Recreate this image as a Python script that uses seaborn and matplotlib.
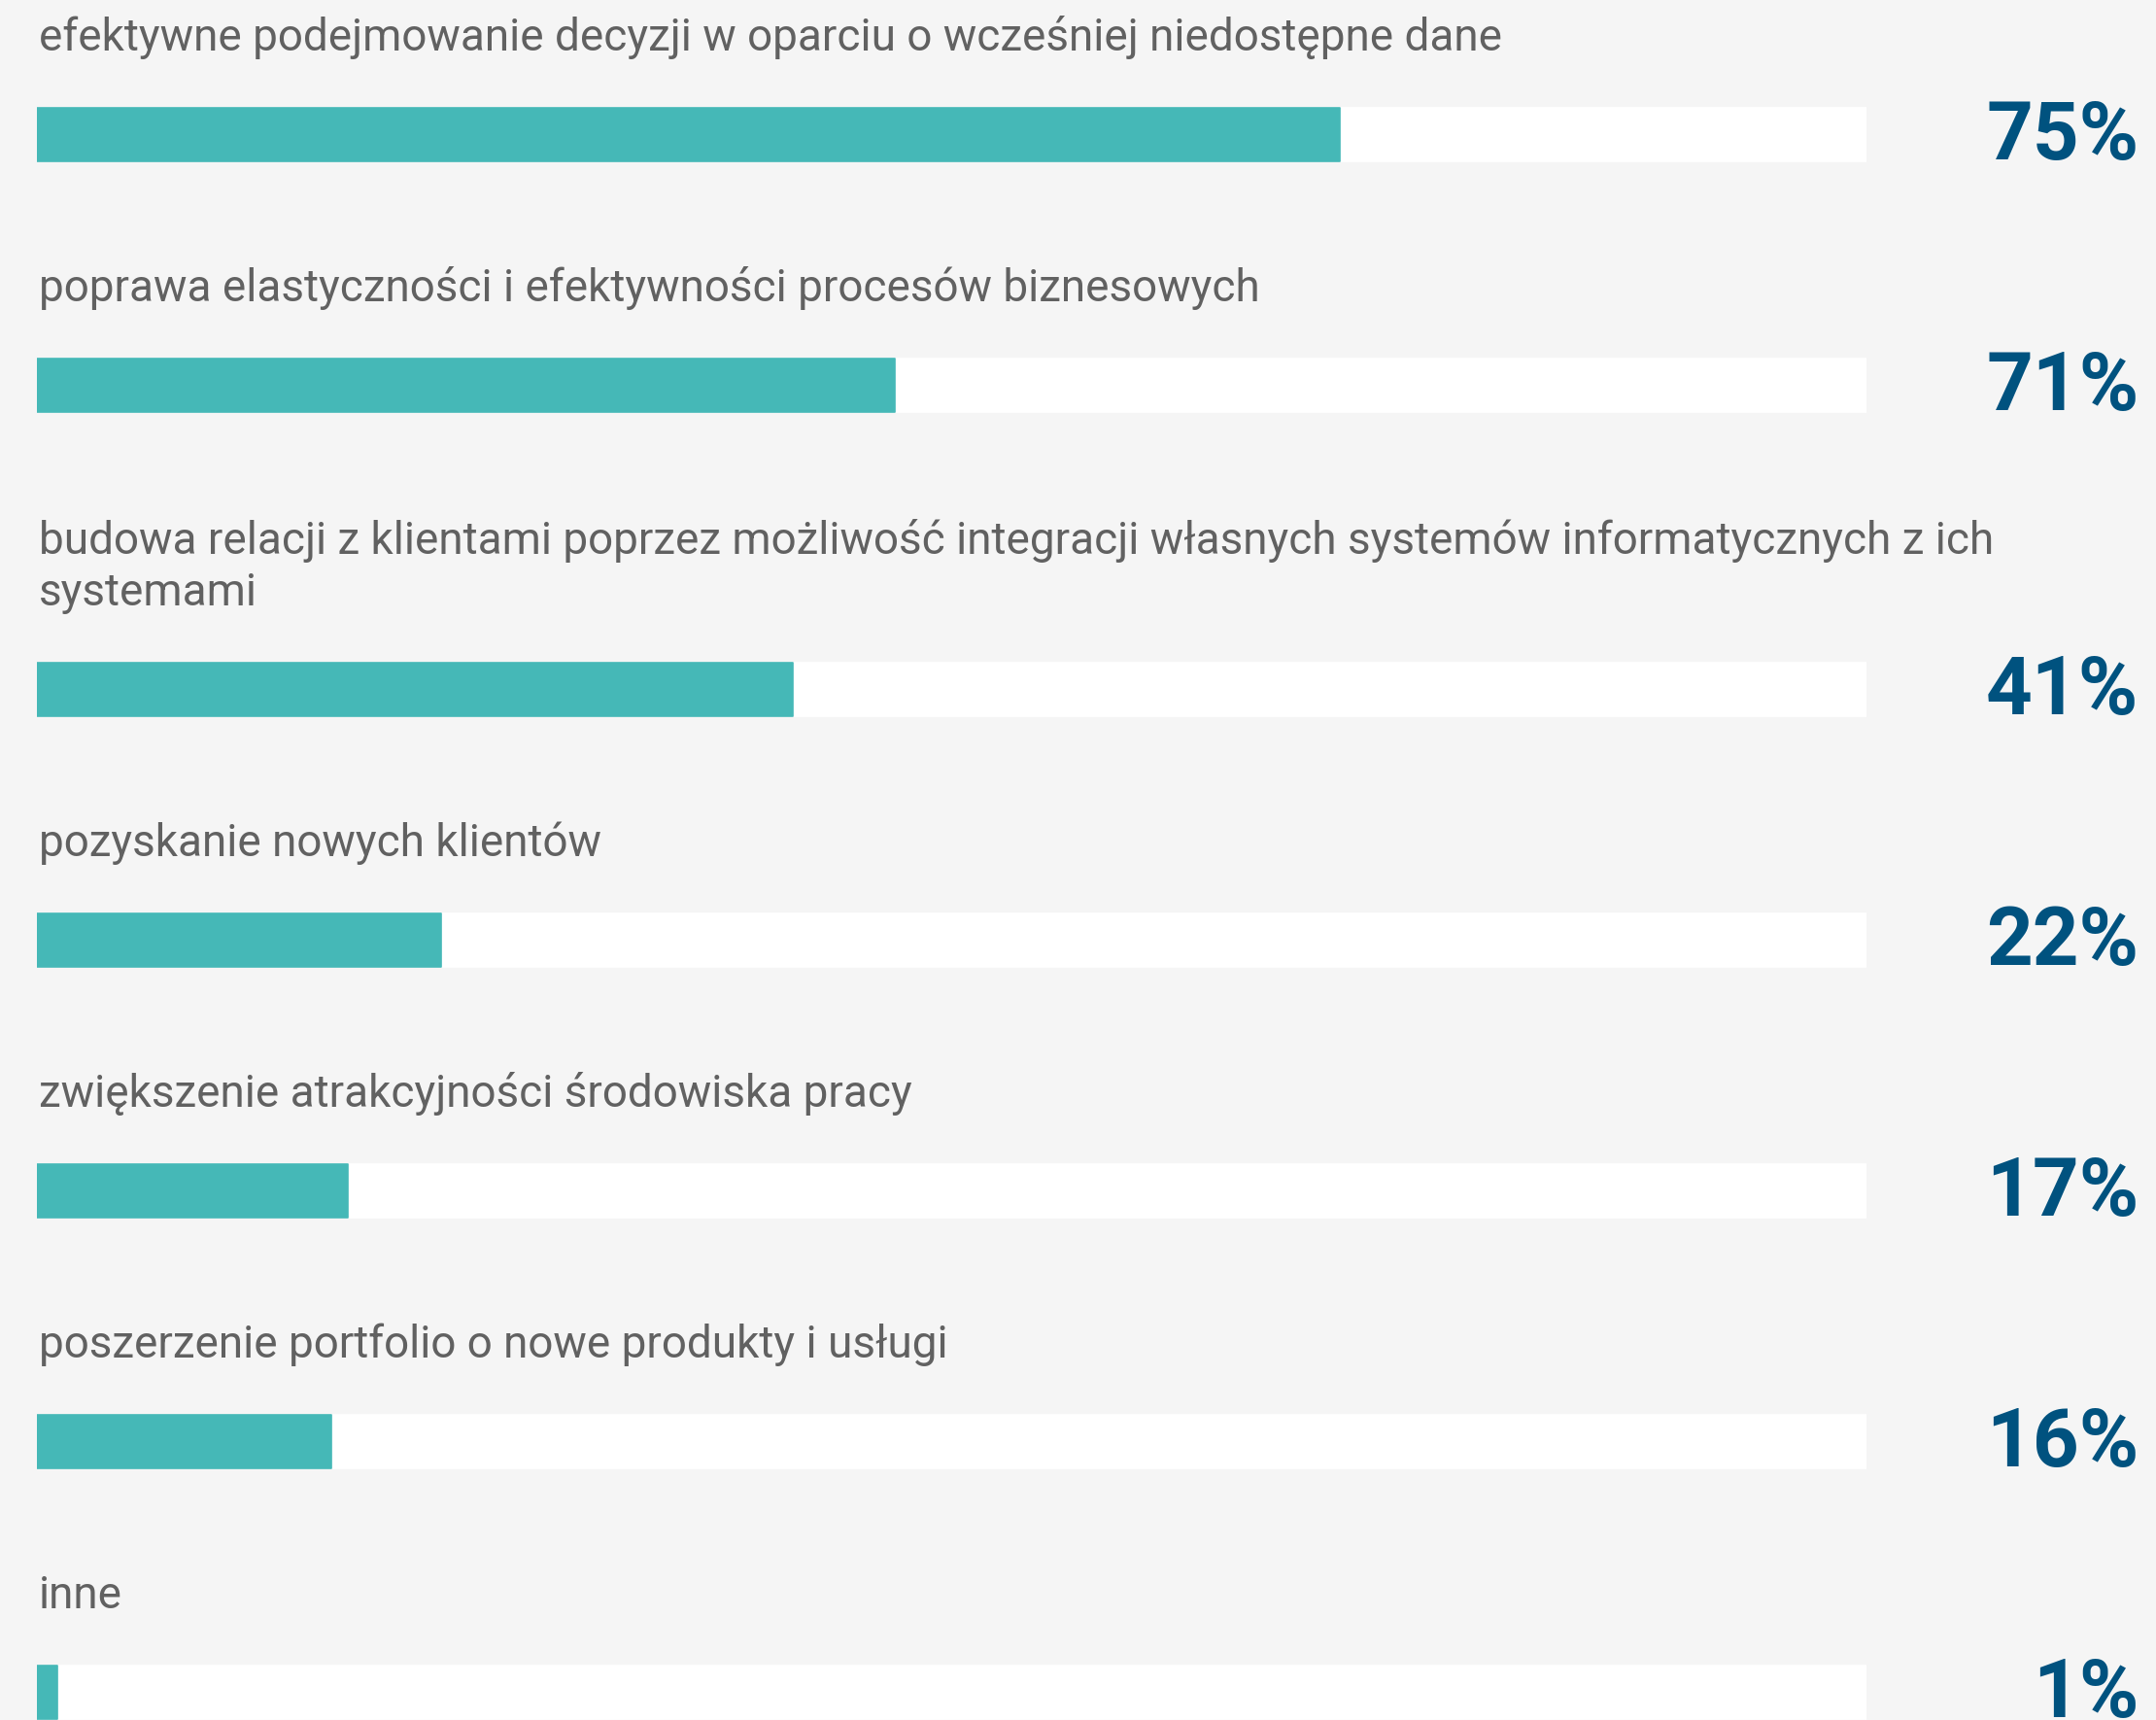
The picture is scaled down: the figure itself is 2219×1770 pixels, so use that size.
import numpy as np
import pandas as pd
import seaborn as sns
import matplotlib.pyplot as plt

# Labels above each bar (Polish, as in the original)
categories = [
    "efektywne podejmowanie decyzji w oparciu o wcześniej niedostępne dane",
    "poprawa elastyczności i efektywności procesów biznesowych",
    "budowa relacji z klientami poprzez możliwość integracji własnych systemów informatycznych z ich\nsystemami",
    "pozyskanie nowych klientów",
    "zwiększenie atrakcyjności środowiska pracy",
    "poszerzenie portfolio o nowe produkty i usługi",
    "inne",
]
# Length of the teal fill as drawn in the picture (percent of the track)
fill_values = [71.2, 46.9, 41.3, 22.1, 17.0, 16.1, 1.1]
# Percent labels printed on the right
pct_labels = ["75%", "71%", "41%", "22%", "17%", "16%", "1%"]

BG = "#f5f5f5"
TEAL = "#45b8b7"
TRACK = "#ffffff"
LABEL_COLOR = "#616161"
PCT_COLOR = "#00527f"

W, H = 2219, 1770
TRACK_LEFT, TRACK_RIGHT = 38, 1921


def row_positions(labels, first_top=111, pitch=258, extra_line=55, bar_h=55):
    # Vertical layout in pixel units, a label with two lines pushes the row down
    tops = []
    shift = 0
    for i, lab in enumerate(labels):
        shift += extra_line * lab.count("\n")
        tops.append(first_top + i * pitch + shift)
    tops = np.array(tops, dtype=float)
    return tops, tops + bar_h / 2


def draw_chart(df, out_path):
    sns.set_theme(style="white")
    plt.rcParams["font.family"] = ["Roboto", "DejaVu Sans"]

    fig = plt.figure(figsize=(W / 100, H / 100), dpi=100, facecolor=BG)
    ax = fig.add_axes([TRACK_LEFT / W, 0, (TRACK_RIGHT - TRACK_LEFT) / W, 1])
    ax.set_facecolor(BG)

    bar_h = 55
    spacing = np.min(np.diff(np.sort(df["center"].values)))
    width = bar_h / spacing

    # White track (full 100%) then the teal fill on top
    sns.barplot(data=df, x="track", y="center", orient="y", native_scale=True,
                color=TRACK, saturation=1, width=width, errorbar=None, ax=ax)
    sns.barplot(data=df, x="fill", y="center", orient="y", native_scale=True,
                color=TEAL, saturation=1, width=width, errorbar=None, ax=ax)

    # slightly rounded corners like the original
    for p in ax.patches:
        p.set_edgecolor(p.get_facecolor())
        p.set_linewidth(1.2)
        p.set_joinstyle("round")

    ax.set_xlim(0, 100)
    ax.set_ylim(H, 0)
    ax.axis("off")

    for _, row in df.iterrows():
        # category label above the bar
        ax.text(0.1, row["top"] - 50, row["label"], ha="left", va="bottom",
                fontsize=33, color=LABEL_COLOR, linespacing=1.25)
        # big percent on the right
        ax.text(114.9, row["center"] + 3, row["pct"], ha="right", va="center",
                fontsize=60, fontweight="bold", color=PCT_COLOR, clip_on=False)

    fig.savefig(out_path, dpi=100, facecolor=BG)


if __name__ == "__main__":
    tops, centers = row_positions(categories)
    df = pd.DataFrame({
        "label": categories,
        "fill": fill_values,
        "track": [100] * len(categories),
        "pct": pct_labels,
        "top": tops,
        "center": centers,
    })
    draw_chart(df, "out.png")
